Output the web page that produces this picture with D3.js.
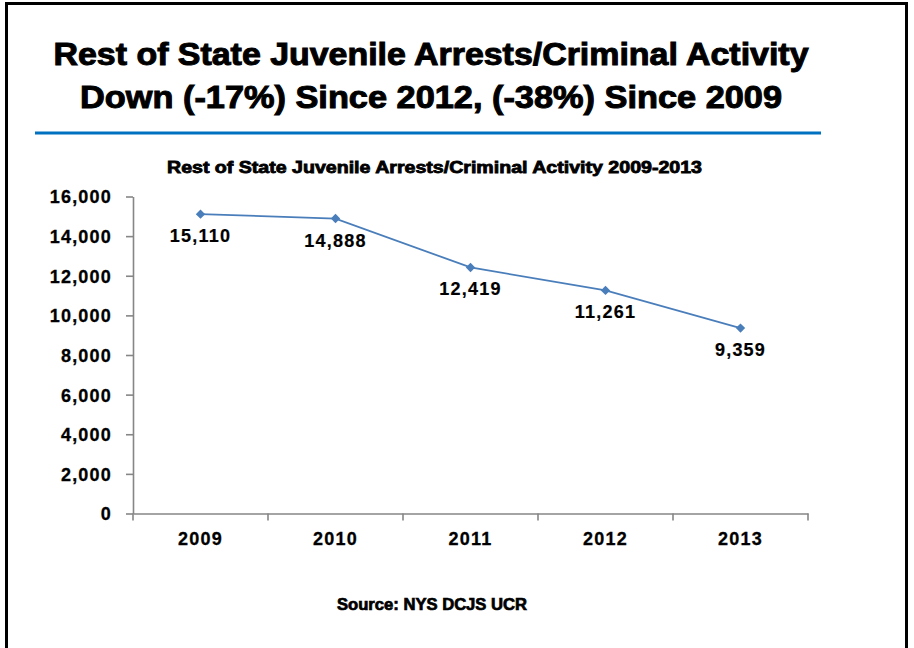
<!DOCTYPE html>
<html>
<head>
<meta charset="utf-8">
<script src="https://cdn.jsdelivr.net/npm/d3@7/dist/d3.min.js"></script>
<style>
    body { margin: 0; background: #fff; }
    svg { display: block; }
    text { font-family: 'Liberation Sans', Arial, sans-serif; fill: #000; }
</style>
</head>
<body>
<script>
const years = ['2009', '2010', '2011', '2012', '2013'];
const arrests = [15110, 14888, 12419, 11261, 9359];
const yTicks = [0, 2000, 4000, 6000, 8000, 10000, 12000, 14000, 16000];
const titleLines = [
    'Rest of State Juvenile Arrests/Criminal Activity',
    'Down (-17%) Since 2012, (-38%) Since 2009'
];
const chartTitle = 'Rest of State Juvenile Arrests/Criminal Activity 2009-2013';
const sourceNote = 'Source: NYS DCJS UCR';

const points = years.map((yr, i) => ({year: yr, value: arrests[i]}));
const fmt = d3.format(',');

const svg = d3.select('body')
    .append('svg')
    .attr('width', 914)
    .attr('height', 648);

// slide frame
svg.append('rect')
    .attr('x', 6.5)
    .attr('y', 3.5)
    .attr('width', 900)
    .attr('height', 700)
    .attr('fill', 'none')
    .attr('stroke', '#000')
    .attr('stroke-width', 3);

// headline
svg.selectAll('.headline')
    .data(titleLines)
    .enter()
    .append('text')
    .classed('headline', true)
    .attr('x', 431)
    .attr('y', (d, i) => 65 + i * 43)
    .attr('text-anchor', 'middle')
    .attr('textLength', (d, i) => i === 0 ? 755 : 702)
    .attr('lengthAdjust', 'spacingAndGlyphs')
    .style('font-size', '31px')
    .style('font-weight', 'bold')
    .style('stroke', '#000')
    .style('stroke-width', 1)
    .text(d => d);

svg.append('line')
    .attr('x1', 35)
    .attr('x2', 821)
    .attr('y1', 133)
    .attr('y2', 133)
    .attr('stroke', '#0070C0')
    .attr('stroke-width', 3);

svg.append('text')
    .attr('x', 434.5)
    .attr('y', 173)
    .attr('text-anchor', 'middle')
    .attr('textLength', 535)
    .attr('lengthAdjust', 'spacingAndGlyphs')
    .style('font-size', '16px')
    .style('font-weight', 'bold')
    .style('stroke', '#000')
    .style('stroke-width', 0.8)
    .text(chartTitle);

const x = d3.scaleBand().domain(years).range([133, 808]);
const y = d3.scaleLinear().domain([0, 16000]).range([513.5, 196.5]);

const axisColor = '#868686';

const yAxis = svg.append('g')
    .attr('transform', 'translate(133,0)')
    .call(d3.axisLeft(y)
        .tickValues(yTicks)
        .tickSize(7)
        .tickSizeOuter(0)
        .tickPadding(14)
        .tickFormat(fmt));

const xAxis = svg.append('g')
    .attr('transform', 'translate(0,513.5)')
    .call(d3.axisBottom(x)
        .tickSize(0)
        .tickSizeOuter(0)
        .tickPadding(19));

// category boundary ticks
xAxis.selectAll('.bound')
    .data(years.map(d => x(d)).concat([x.range()[1]]))
    .enter()
    .append('line')
    .classed('bound', true)
    .attr('x1', d => d)
    .attr('x2', d => d)
    .attr('y1', 0)
    .attr('y2', 7);

[yAxis, xAxis].forEach(g => {
    g.selectAll('path, line')
        .attr('stroke', axisColor)
        .attr('stroke-width', 1.6);
    g.selectAll('text')
        .attr('fill', '#000')
        .style('font-family', "'Liberation Sans', Arial, sans-serif")
        .style('font-size', '18px')
        .style('font-weight', 'bold')
        .style('letter-spacing', '1.2px')
        .style('stroke', '#000')
        .style('stroke-width', 0.3);
});
yAxis.selectAll('text').attr('dy', '0.36em');
xAxis.selectAll('text').attr('dy', '0.7em');

const line = d3.line()
    .x(d => x(d.year) + x.bandwidth() / 2)
    .y(d => y(d.value));

svg.append('path')
    .datum(points)
    .attr('d', line)
    .attr('fill', 'none')
    .attr('stroke', '#4A7EBB')
    .attr('stroke-width', 1.8);

svg.selectAll('.marker')
    .data(points)
    .enter()
    .append('path')
    .classed('marker', true)
    .attr('d', d3.symbol(d3.symbolSquare, 44))
    .attr('fill', '#4A7EBB')
    .attr('transform', d => 'translate(' + (x(d.year) + x.bandwidth() / 2) + ',' + y(d.value) + ') rotate(45)');

svg.selectAll('.value-label')
    .data(points)
    .enter()
    .append('text')
    .classed('value-label', true)
    .attr('x', d => x(d.year) + x.bandwidth() / 2)
    .attr('y', d => y(d.value) + 28)
    .attr('text-anchor', 'middle')
    .style('font-size', '18px')
    .style('font-weight', 'bold')
    .style('letter-spacing', '1.2px')
    .style('stroke', '#000')
    .style('stroke-width', 0.2)
    .text(d => fmt(d.value));

svg.append('text')
    .attr('x', 432)
    .attr('y', 610)
    .attr('text-anchor', 'middle')
    .attr('textLength', 190)
    .attr('lengthAdjust', 'spacingAndGlyphs')
    .style('font-size', '16px')
    .style('font-weight', 'bold')
    .style('stroke', '#000')
    .style('stroke-width', 0.7)
    .text(sourceNote);
</script>
</body>
</html>
